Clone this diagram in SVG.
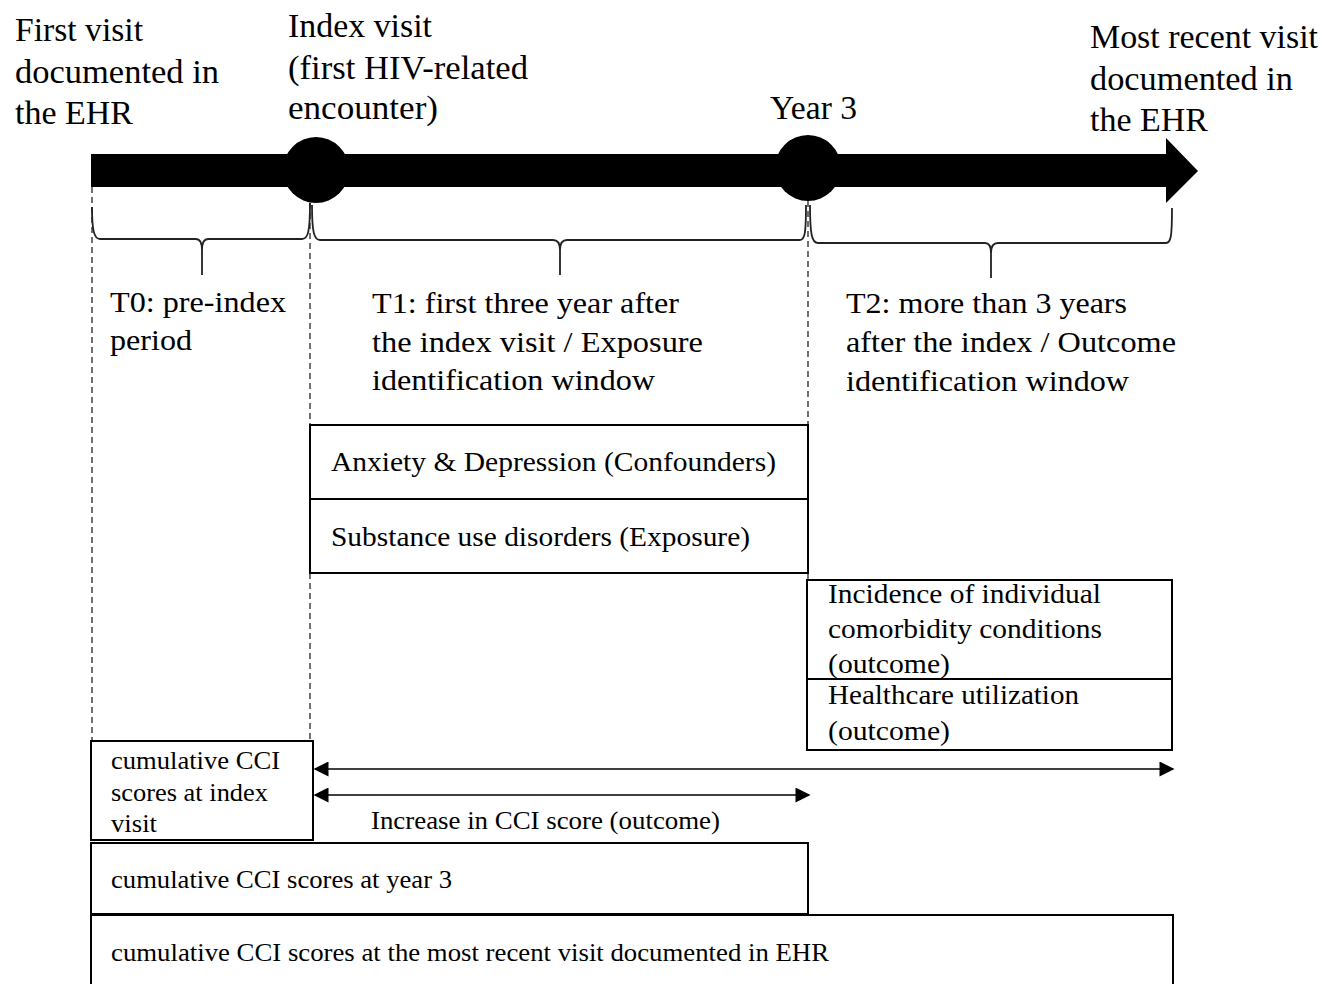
<svg xmlns="http://www.w3.org/2000/svg" width="1322" height="984" viewBox="0 0 1322 984">
<defs>
<style>
text{font-family:"Liberation Serif","Times New Roman",serif;fill:#000;}
.t1{font-size:33px;}
.t2{font-size:30px;}
.t3{font-size:27px;}
.t4{font-size:26px;}
.box{fill:#fff;stroke:#000;stroke-width:2;}
.dash{stroke:#111;stroke-width:1.2;stroke-dasharray:6,4;fill:none;}
.brace{stroke:#222;stroke-width:1.8;fill:none;}
.arr{stroke:#000;stroke-width:1.5;fill:none;marker-start:url(#ah);marker-end:url(#ah);}
</style>
<marker id="ah" viewBox="0 0 10 10" refX="9" refY="5" markerUnits="userSpaceOnUse" markerWidth="16" markerHeight="15" orient="auto-start-reverse">
<path d="M0,0 L10,5 L0,10 Z" fill="#000"/>
</marker>
</defs>
<rect width="1322" height="984" fill="#fff"/>

<g id="timeline">
<rect x="91" y="154" width="1077" height="33" fill="#000"/>
<polygon points="1166,138 1198,171 1166,203" fill="#000"/>
<circle cx="316" cy="170" r="33" fill="#000"/>
<circle cx="808" cy="168" r="33" fill="#000"/>
</g>

<g id="guides">
<line class="dash" x1="92" y1="187" x2="92" y2="740"/>
<line class="dash" x1="310" y1="203" x2="310" y2="425"/>
<line class="dash" x1="310" y1="573" x2="310" y2="740"/>
<line class="dash" x1="808" y1="201" x2="808" y2="425"/>
<line class="dash" x1="808" y1="573" x2="808" y2="580"/>
</g>

<g id="braces">
<path class="brace" d="M92,207 C92,230 94,239 100,239 L196,239 C200,239 202,243 202,250 L202,275 M202,250 C202,243 204,239 208,239 L302,239 C308,239 310,232 310,203"/>
<path class="brace" d="M312,205 C312,232 314,240 320,240 L553,240 C558,240 560,244 560,250 L560,275 M560,250 C560,244 562,240 567,240 L800,240 C805,240 806,232 806,205"/>
<path class="brace" d="M810,205 C810,235 812,243 818,243 L985,243 C990,243 991,247 991,253 L991,278 M991,253 C991,247 993,243 998,243 L1166,243 C1171,243 1172,236 1172,208"/>
</g>

<g id="label-first">
<text class="t1" x="15" y="41" textLength="128" lengthAdjust="spacingAndGlyphs">First visit</text>
<text class="t1" x="15" y="83" textLength="204" lengthAdjust="spacingAndGlyphs">documented in</text>
<text class="t1" x="15" y="124" textLength="118" lengthAdjust="spacingAndGlyphs">the EHR</text>
</g>
<g id="label-index">
<text class="t1" x="288" y="37" textLength="144" lengthAdjust="spacingAndGlyphs">Index visit</text>
<text class="t1" x="288" y="79" textLength="240" lengthAdjust="spacingAndGlyphs">(first HIV-related</text>
<text class="t1" x="288" y="119" textLength="150" lengthAdjust="spacingAndGlyphs">encounter)</text>
</g>
<g id="label-year3">
<text class="t1" x="770" y="119" textLength="87" lengthAdjust="spacingAndGlyphs">Year 3</text>
</g>
<g id="label-recent">
<text class="t1" x="1090" y="48" textLength="228" lengthAdjust="spacingAndGlyphs">Most recent visit</text>
<text class="t1" x="1090" y="90" textLength="203" lengthAdjust="spacingAndGlyphs">documented in</text>
<text class="t1" x="1090" y="131" textLength="118" lengthAdjust="spacingAndGlyphs">the EHR</text>
</g>

<g id="label-t0">
<text class="t2" x="110" y="312" textLength="176" lengthAdjust="spacingAndGlyphs">T0: pre-index</text>
<text class="t2" x="110" y="350" textLength="82" lengthAdjust="spacingAndGlyphs">period</text>
</g>
<g id="label-t1">
<text class="t2" x="372" y="313" textLength="307" lengthAdjust="spacingAndGlyphs">T1: first three year after</text>
<text class="t2" x="372" y="352" textLength="331" lengthAdjust="spacingAndGlyphs">the index visit / Exposure</text>
<text class="t2" x="372" y="390" textLength="283" lengthAdjust="spacingAndGlyphs">identification window</text>
</g>
<g id="label-t2">
<text class="t2" x="846" y="313" textLength="281" lengthAdjust="spacingAndGlyphs">T2: more than 3 years</text>
<text class="t2" x="846" y="352" textLength="330" lengthAdjust="spacingAndGlyphs">after the index / Outcome</text>
<text class="t2" x="846" y="391" textLength="283" lengthAdjust="spacingAndGlyphs">identification window</text>
</g>

<g id="box-anxiety">
<rect class="box" x="310" y="425" width="498" height="74"/>
<text class="t3" x="331" y="471" textLength="445" lengthAdjust="spacingAndGlyphs">Anxiety &amp; Depression (Confounders)</text>
</g>
<g id="box-substance">
<rect class="box" x="310" y="499" width="498" height="74"/>
<text class="t3" x="331" y="546" textLength="419" lengthAdjust="spacingAndGlyphs">Substance use disorders (Exposure)</text>
</g>
<g id="box-incidence">
<rect class="box" x="807" y="580" width="365" height="99"/>
<text class="t3" x="828" y="603" textLength="273" lengthAdjust="spacingAndGlyphs">Incidence of individual</text>
<text class="t3" x="828" y="638" textLength="274" lengthAdjust="spacingAndGlyphs">comorbidity conditions</text>
<text class="t3" x="828" y="673" textLength="122" lengthAdjust="spacingAndGlyphs">(outcome)</text>
</g>
<g id="box-healthcare">
<rect class="box" x="807" y="679" width="365" height="71"/>
<text class="t3" x="828" y="704" textLength="251" lengthAdjust="spacingAndGlyphs">Healthcare utilization</text>
<text class="t3" x="828" y="740" textLength="122" lengthAdjust="spacingAndGlyphs">(outcome)</text>
</g>

<g id="box-cci-index">
<rect class="box" x="91" y="741" width="222" height="99"/>
<text class="t4" x="111" y="769" textLength="169" lengthAdjust="spacingAndGlyphs">cumulative CCI</text>
<text class="t4" x="111" y="801" textLength="157" lengthAdjust="spacingAndGlyphs">scores at index</text>
<text class="t4" x="111" y="832" textLength="46" lengthAdjust="spacingAndGlyphs">visit</text>
</g>
<g id="box-cci-year3">
<rect class="box" x="91" y="843" width="717" height="71"/>
<text class="t4" x="111" y="888" textLength="341" lengthAdjust="spacingAndGlyphs">cumulative CCI scores at year 3</text>
</g>
<g id="box-cci-recent">
<rect class="box" x="91" y="915" width="1082" height="80"/>
<text class="t4" x="111" y="961" textLength="718" lengthAdjust="spacingAndGlyphs">cumulative CCI scores at the most recent visit documented in EHR</text>
</g>

<g id="connectors">
<line class="arr" x1="315" y1="769" x2="1173" y2="769"/>
<line class="arr" x1="315" y1="795" x2="809" y2="795"/>
</g>
<g id="label-increase">
<text class="t4" x="371" y="829" textLength="349" lengthAdjust="spacingAndGlyphs">Increase in CCI score (outcome)</text>
</g>
</svg>
